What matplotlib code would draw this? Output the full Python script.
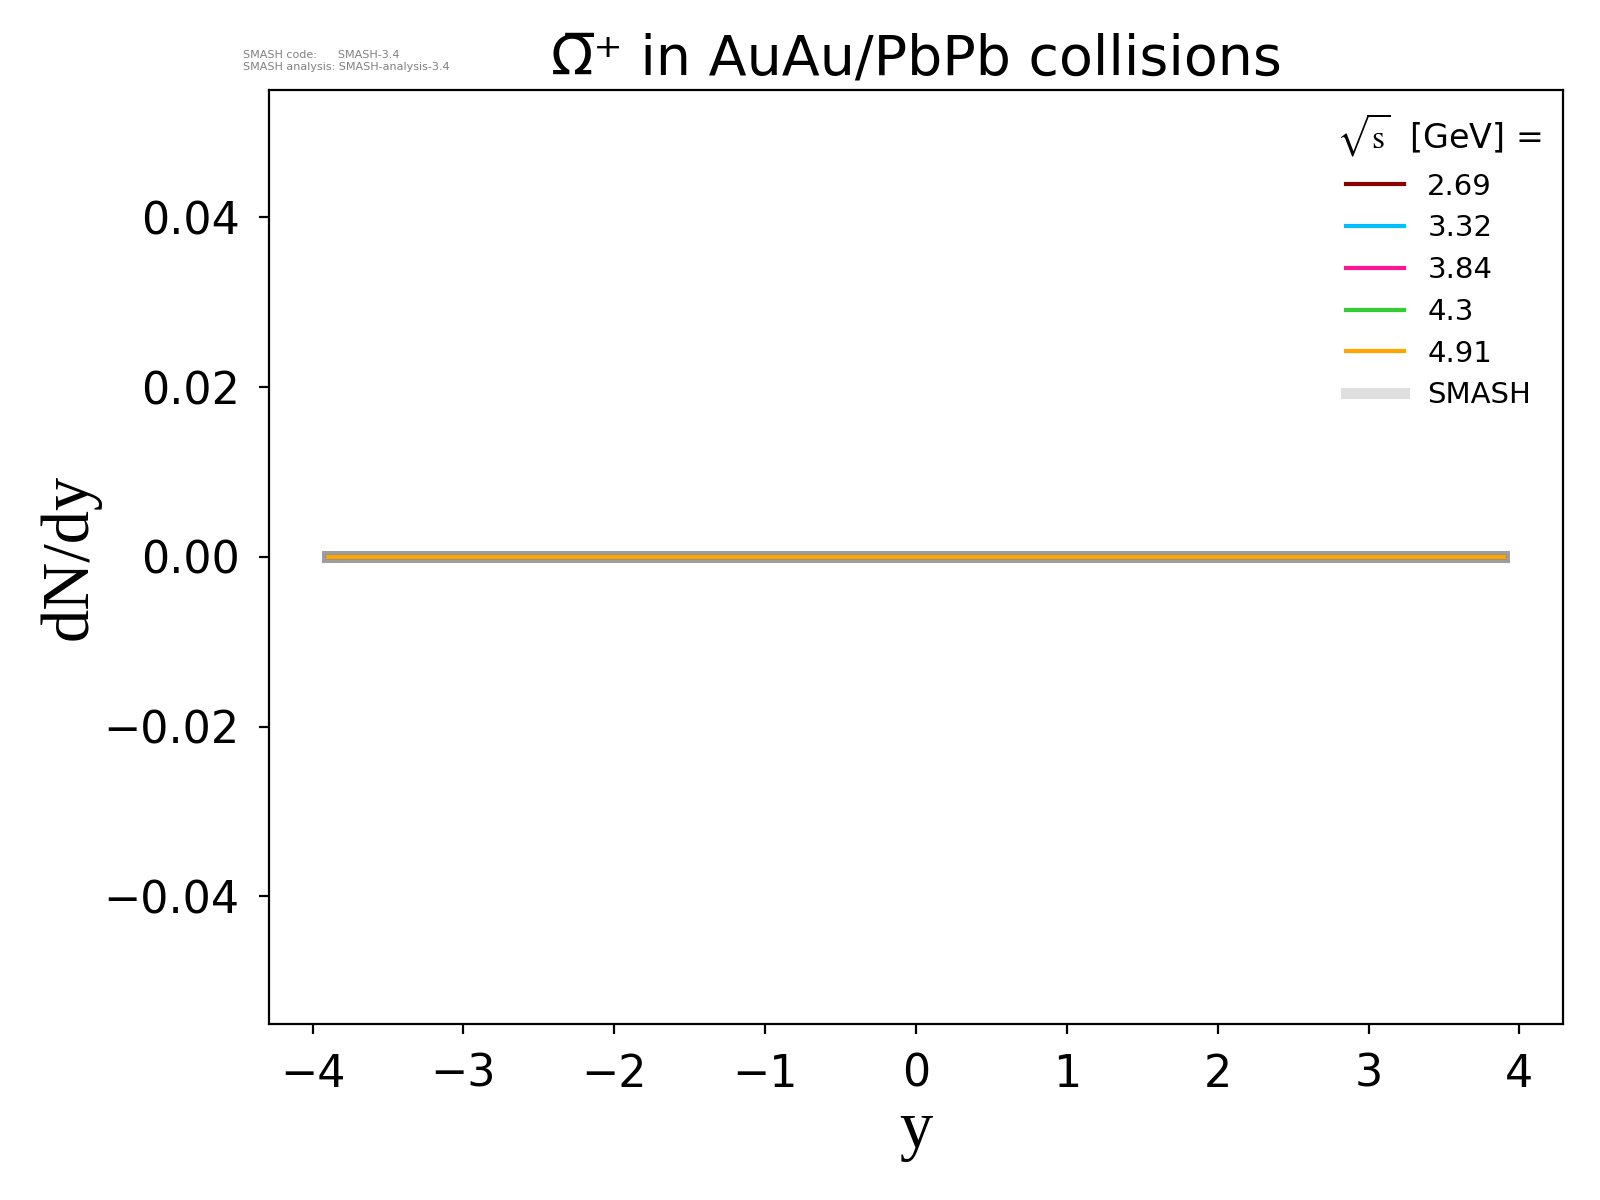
import matplotlib
matplotlib.use('Agg')
import matplotlib.pyplot as plt
from matplotlib.lines import Line2D
from matplotlib.font_manager import FontProperties

# rapidity bins and dN/dy (all zero for anti-Omega+ at these energies)
y_bins = [-3.9, -3.5, -3.0, -2.5, -2.0, -1.5, -1.0, -0.5, 0.0,
          0.5, 1.0, 1.5, 2.0, 2.5, 3.0, 3.5, 3.9]
energies = ['2.69', '3.32', '3.84', '4.3', '4.91']
colors = ['darkred', 'deepskyblue', 'deeppink', 'limegreen', 'orange']
dndy = {
    '2.69': [0.0] * 17,
    '3.32': [0.0] * 17,
    '3.84': [0.0] * 17,
    '4.3': [0.0] * 17,
    '4.91': [0.0] * 17,
}

fig = plt.figure(figsize=(8, 6), dpi=200)
ax = fig.add_axes([0.168, 0.147, 0.809, 0.778])

for e, c in zip(energies, colors):
    ax.plot(y_bins, dndy[e], color='gray', alpha=0.25, lw=4.3)
    ax.plot(y_bins, dndy[e], color=c, lw=1.5)

ax.set_xticks([-4, -3, -2, -1, 0, 1, 2, 3, 4])
ax.tick_params(labelsize=16, pad=7)
ax.set_xlabel('y', fontsize=24, family='Liberation Serif', labelpad=2)
ax.set_ylabel('dN/dy', fontsize=24, family='Liberation Serif', labelpad=1)
ax.set_title('\u03A9\u0305\u207A in AuAu/PbPb collisions', fontsize=20, pad=5.4)

handles = [Line2D([], [], color=c, lw=1.5) for c in colors]
handles.append(Line2D([], [], color='gray', alpha=0.25, lw=4))
labels = energies + ['SMASH']
leg = ax.legend(handles, labels, loc='upper right', frameon=False,
                title=r'$\sqrt{\mathrm{s}}$  [GeV] =', fontsize=10.5,
                borderaxespad=0.35, labelspacing=0.47,
                title_fontproperties=FontProperties(size=12, math_fontfamily='stix'))

fig.text(0.152, 0.958, 'SMASH code:      SMASH-3.4\nSMASH analysis: SMASH-analysis-3.4',
         fontsize=4.0, color='gray', va='top', ha='left')

fig.savefig('out.png', dpi=200)
